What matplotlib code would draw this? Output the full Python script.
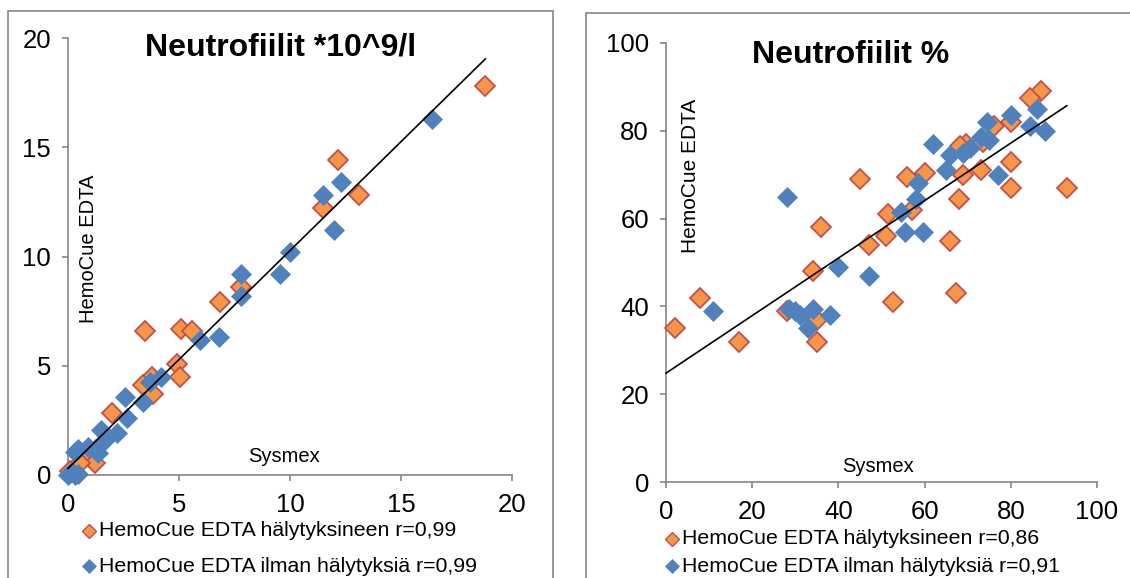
import matplotlib
matplotlib.use("Agg")
import matplotlib.pyplot as plt
from matplotlib.patches import Rectangle
from matplotlib.lines import Line2D
import numpy as np

plt.rcParams['font.family'] = ['Liberation Sans', 'DejaVu Sans']

# ---------------- data: left chart (Neutrofiilit *10^9/l) ----------------
abs_flag_x = [18.8, 12.15, 13.1, 11.5, 6.85, 7.8, 5.1, 5.6, 3.45, 4.9, 5.05, 3.8, 3.85, 3.4, 2.0, 0.8, 1.2, 0.55, 0.1]
abs_flag_y = [17.8, 14.4, 12.8, 12.2, 7.9, 8.6, 6.7, 6.6, 6.6, 5.1, 4.5, 4.5, 3.7, 4.1, 2.85, 0.85, 0.55, 0.55, 0.2]
abs_noflag_x = [16.4, 12.3, 11.5, 12.0, 10.0, 9.55, 7.8, 7.8, 6.8, 5.95, 4.2, 3.7, 3.4, 2.55, 2.65, 2.2,
                1.5, 1.65, 1.2, 0.9, 0.45, 0.3, 1.35, 0.1, 0.45, 0.0, 0.3]
abs_noflag_y = [16.3, 13.4, 12.8, 11.2, 10.2, 9.2, 9.2, 8.2, 6.3, 6.2, 4.5, 4.25, 3.35, 3.55, 2.6, 1.9,
                2.05, 1.6, 1.2, 1.3, 1.2, 1.05, 1.0, 0.1, 0.05, 0.0, 0.0]
abs_trend = dict(slope=0.997, intercept=0.3, xmin=0.0, xmax=18.8)
abs_ticks = [0, 5, 10, 15, 20]

# ---------------- data: right chart (Neutrofiilit %) ----------------
pct_flag_x = [2, 8, 17, 36, 34, 45, 47, 28, 35, 35, 87, 84.5, 80, 80, 80, 93, 68, 69, 73, 56, 60,
              51.5, 57, 69.5, 68.2, 73.6, 76, 51, 66, 67.3, 52.7]
pct_flag_y = [35, 42, 32, 58, 48, 69, 54, 39, 37, 32, 89, 87.5, 82, 73, 67, 67, 64.5, 70, 71, 69.5, 70.5,
              61, 62, 77, 76.5, 77.5, 81, 56, 55, 43, 41]
pct_noflag_x = [28, 11, 40, 47, 28.5, 30, 31, 34, 38, 33, 62, 74.5, 80, 86, 84.5, 88, 75, 70.5, 66, 69,
                65, 77, 58.5, 58, 54.5, 73, 55.5, 59.7]
pct_noflag_y = [65, 39, 49, 47, 39.5, 39, 38, 39.5, 38, 35, 77, 82, 83.5, 85, 81, 80, 78, 76, 74.5, 75,
                71, 70, 68, 64.5, 61.5, 78.5, 57, 57]
pct_trend = dict(slope=0.655, intercept=24.8, xmin=0.0, xmax=93.0)
pct_ticks = [0, 20, 40, 60, 80, 100]

titles = ["Neutrofiilit *10^9/l", "Neutrofiilit %"]
legend_labels_left = ["HemoCue EDTA hälytyksineen r=0,99", "HemoCue EDTA ilman hälytyksiä r=0,99"]
legend_labels_right = ["HemoCue EDTA hälytyksineen r=0,86", "HemoCue EDTA ilman hälytyksiä r=0,91"]
xlabel = "Sysmex"
ylabel = "HemoCue EDTA"

ORANGE = "#F79646"
ORANGE_EDGE = "#C0504D"
BLUE = "#4F81BD"
GRAY = "#868686"

W, H = 1130, 578
fig = plt.figure(figsize=(W / 100, H / 100), dpi=100)

def fx(px):
    return px / W

def fy(py):
    return 1 - py / H

# chart frames
fig.add_artist(Rectangle((fx(8.3), fy(600)), fx(553.3) - fx(8.3), fy(11) - fy(600),
                         transform=fig.transFigure, fill=False, edgecolor=GRAY, lw=1.2))
fig.add_artist(Rectangle((fx(585.7), fy(600)), fx(1200) - fx(585.7), fy(13.3) - fy(600),
                         transform=fig.transFigure, fill=False, edgecolor=GRAY, lw=1.2))

def make_axes(px0, px1, py0, py1):
    return fig.add_axes([fx(px0), fy(py0), fx(px1) - fx(px0), fy(py1) - fy(py0)])

def style(ax, ticks):
    ax.set_xlim(ticks[0], ticks[-1])
    ax.set_ylim(ticks[0], ticks[-1])
    ax.set_xticks(ticks)
    ax.set_yticks(ticks)
    for s in ["top", "right"]:
        ax.spines[s].set_visible(False)
    for s in ["left", "bottom"]:
        ax.spines[s].set_color(GRAY)
        ax.spines[s].set_linewidth(1.2)
    ax.tick_params(axis="both", direction="out", length=4.3, width=1.2, color=GRAY,
                   labelsize=18.5, labelcolor="black")
    ax.tick_params(axis="y", pad=8)
    ax.tick_params(axis="x", pad=9)
    ax.patch.set_alpha(0)

def scatter(ax, fx_, fy_, nx, ny, trend):
    ax.plot(fx_, fy_, ls="none", marker="D", ms=10, mfc=ORANGE, mec=ORANGE_EDGE, mew=1.3,
            clip_on=False, zorder=3)
    ax.plot(nx, ny, ls="none", marker="D", ms=10.5, mfc=BLUE, mec=BLUE, mew=0.5,
            clip_on=False, zorder=4)
    tx = np.array([trend["xmin"], trend["xmax"]])
    ax.plot(tx, trend["slope"] * tx + trend["intercept"], color="black", lw=1.2, zorder=5,
            clip_on=False)

# left chart
axL = make_axes(68, 512, 475, 38)
style(axL, abs_ticks)
scatter(axL, abs_flag_x, abs_flag_y, abs_noflag_x, abs_noflag_y, abs_trend)

# right chart
axR = make_axes(666, 1097, 482, 43)
style(axR, pct_ticks)
scatter(axR, pct_flag_x, pct_flag_y, pct_noflag_x, pct_noflag_y, pct_trend)

# titles
fig.text(fx(281), fy(48), titles[0], fontsize=23, fontweight="bold", ha="center", va="center")
fig.text(fx(851), fy(55), titles[1], fontsize=23, fontweight="bold", ha="center", va="center")

# axis titles placed inside plot area
fig.text(fx(88), fy(249), ylabel, fontsize=14.5, rotation=90, ha="center", va="center")
fig.text(fx(690), fy(176), ylabel, fontsize=15, rotation=90, ha="center", va="center")
fig.text(fx(284), fy(457), xlabel, fontsize=14.5, ha="center", va="center")
fig.text(fx(878), fy(466), xlabel, fontsize=14.5, ha="center", va="center")

# legends
def legend_rows(mx, tx, rows, labels):
    styles = [dict(mfc=ORANGE, mec=ORANGE_EDGE, mew=1.0, ms=7.5),
              dict(mfc=BLUE, mec=BLUE, mew=0.5, ms=7.5)]
    for yy, lab, st in zip(rows, labels, styles):
        fig.add_artist(Line2D([fx(mx)], [fy(yy)], marker="D", ls="none",
                              transform=fig.transFigure, **st))
        fig.text(fx(tx), fy(yy), lab, fontsize=15.3, ha="left", va="center")

legend_rows(89, 99, [531, 566], legend_labels_left)
legend_rows(672, 682, [539, 566], legend_labels_right)

fig.savefig("out.png", dpi=100)
